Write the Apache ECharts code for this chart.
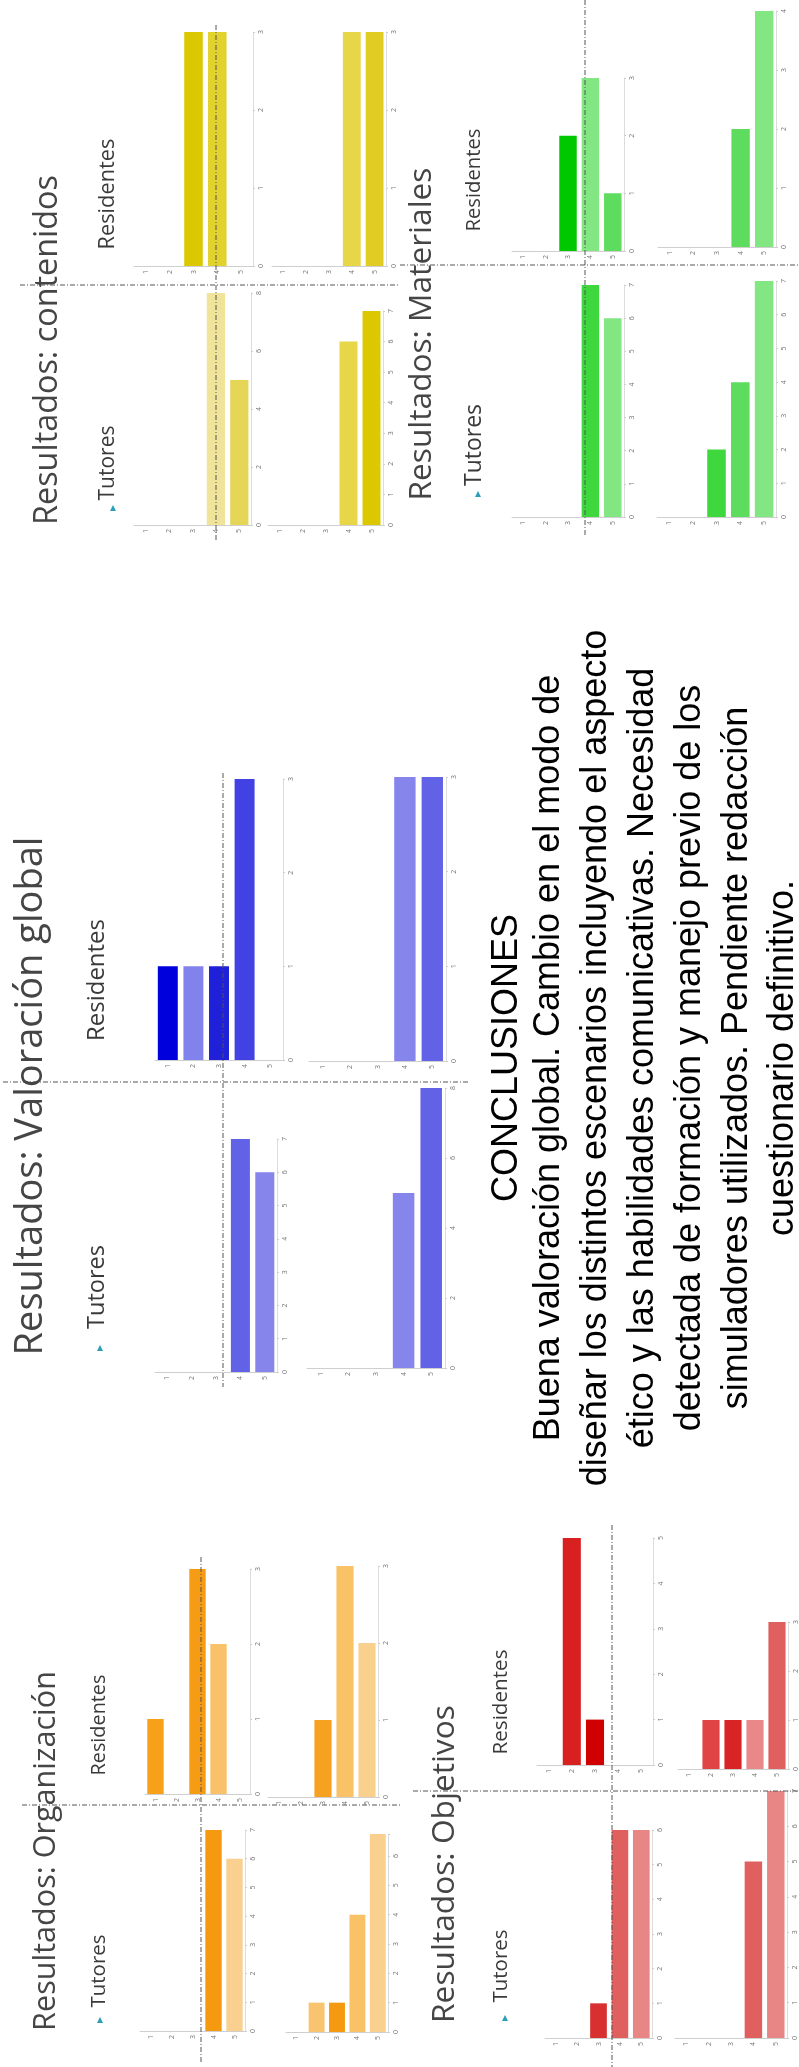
<!DOCTYPE html>
<html>
<head>
<meta charset="utf-8">
<script src="https://cdn.jsdelivr.net/npm/echarts@6/dist/echarts.min.js"></script>
<style>
html,body{margin:0;padding:0;background:#ffffff;}
#chart{width:799px;height:2067px;}
</style>
</head>
<body>
<div id="chart"></div>
<script>
// ---------------- DATA ----------------
const categories = ['1', '2', '3', '4', '5'];

// Resultados: contenidos
const contenidosResidentesA = [0, 0, 3, 3, 0];
const contenidosResidentesB = [0, 0, 0, 3, 3];
const contenidosTutoresA = [0, 0, 0, 8, 5];
const contenidosTutoresB = [0, 0, 0, 6, 7];
// Resultados: Materiales
const materialesResidentesA = [0, 0, 2, 3, 1];
const materialesResidentesB = [0, 0, 0, 2, 4];
const materialesTutoresA = [0, 0, 0, 7, 6];
const materialesTutoresB = [0, 0, 2, 4, 7];
// Resultados: Valoración global
const valoracionResidentesA = [1, 1, 1, 3, 0];
const valoracionResidentesB = [0, 0, 0, 3, 3];
const valoracionTutoresA = [0, 0, 0, 7, 6];
const valoracionTutoresB = [0, 0, 0, 5, 8];
// Resultados: Organización
const organizacionResidentesA = [1, 0, 3, 2, 0];
const organizacionResidentesB = [0, 0, 1, 3, 2];
const organizacionTutoresA = [0, 0, 0, 7, 6];
const organizacionTutoresB = [0, 1, 1, 4, 7];
// Resultados: Objetivos
const objetivosResidentesA = [0, 5, 1, 0, 0];
const objetivosResidentesB = [0, 1, 1, 1, 3];
const objetivosTutoresA = [0, 0, 1, 6, 6];
const objetivosTutoresB = [0, 0, 0, 5, 7];

const sectionTitles = ['Resultados: contenidos', 'Resultados: Materiales', 'Resultados: Valoración global', 'Resultados: Organización', 'Resultados: Objetivos'];
const groupLabels = ['Residentes', 'Tutores'];
const conclusionLines = [
  'CONCLUSIONES',
  'Buena valoración global. Cambio en el modo de',
  'diseñar los distintos escenarios incluyendo el aspecto',
  'ético y las habilidades comunicativas. Necesidad',
  'detectada de formación y manejo previo de los',
  'simuladores utilizados. Pendiente redacción',
  'cuestionario definitivo.'
];

// ---------------- LAYOUT / STYLE ----------------
const Y = ['#DCC800', '#E2D030', '#E6D648', '#EFE49A', '#E6D658'];
const charts = [
  // contenidos
  {data: contenidosResidentesA, colors: ['#DCC800','#DCC800','#DCC800','#E2D22E','#E2D22E'], box: [134, 32, 253, 266], max: 3, interval: 1},
  {data: contenidosResidentesB, colors: ['#E6D648','#E6D648','#E6D648','#E6D648','#E0CC22'], box: [272, 32, 386, 266], max: 3, interval: 1},
  {data: contenidosTutoresA, colors: ['#EFE49A','#EFE49A','#EFE49A','#EFE49A','#E6D658'], box: [134, 293, 251, 525], max: 8, interval: 2},
  {data: contenidosTutoresB, colors: ['#E6D648','#E6D648','#E6D648','#E6D648','#DCC800'], box: [268, 311, 383, 525], max: 7, interval: 1},
  // materiales
  {data: materialesResidentesA, colors: ['#00C800','#00C800','#00C800','#82E682','#5EDC5E'], box: [512, 78, 624, 251], max: 3, interval: 1},
  {data: materialesResidentesB, colors: ['#5EDC5E','#5EDC5E','#5EDC5E','#5EDC5E','#82E682'], box: [658, 11, 776, 247], max: 4, interval: 1},
  {data: materialesTutoresA, colors: ['#3ED83E','#3ED83E','#3ED83E','#3ED83E','#82E682'], box: [512, 285, 624, 517], max: 7, interval: 1},
  {data: materialesTutoresB, colors: ['#3ED83E','#3ED83E','#3ED83E','#5EDC5E','#82E682'], box: [657, 281, 776, 517], max: 7, interval: 1},
  // valoracion
  {data: valoracionResidentesA, colors: ['#0000DC','#8282EC','#2020D8','#4242E4','#4242E4'], box: [155, 779, 283, 1060], max: 3, interval: 1},
  {data: valoracionResidentesB, colors: ['#8585EC','#8585EC','#8585EC','#8585EC','#6262E6'], box: [309, 777, 446, 1061], max: 3, interval: 1},
  {data: valoracionTutoresA, colors: ['#6262E6','#6262E6','#6262E6','#6262E6','#8585EC'], box: [155, 1139, 277, 1372], max: 7, interval: 1},
  {data: valoracionTutoresB, colors: ['#8585EC','#8585EC','#8585EC','#8585EC','#6262E6'], box: [307, 1088, 445, 1368], max: 8, interval: 2},
  // organizacion
  {data: organizacionResidentesA, colors: ['#F7A01A','#F7A01A','#F59B14','#F9C26A','#F9C26A'], box: [145, 1569, 250, 1794], max: 3, interval: 1},
  {data: organizacionResidentesB, colors: ['#F6A220','#F6A220','#F6A220','#F9C266','#FAD08E'], box: [268, 1566, 378, 1797], max: 3, interval: 1},
  {data: organizacionTutoresA, colors: ['#F59A10','#F59A10','#F59A10','#F59A10','#FAD090'], box: [140, 1830, 245, 2031], max: 7, interval: 1},
  {data: organizacionTutoresB, colors: ['#F9C470','#F9C470','#F59A10','#F9C266','#FAD090'], box: [286, 1834, 388, 2032], max: 6.75, interval: 1},
  // objetivos
  {data: objetivosResidentesA, colors: ['#D82020','#D82020','#D00000','#D00000','#D00000'], box: [537, 1538, 653, 1765], max: 5, interval: 1},
  {data: objetivosResidentesB, colors: ['#E04444','#E04444','#D82424','#E88888','#E06060'], box: [678, 1622, 791, 1769], max: 3, interval: 1},
  {data: objetivosTutoresA, colors: ['#D83030','#D83030','#D83030','#E06060','#E88686'], box: [545, 1830, 652, 2038], max: 6, interval: 1},
  {data: objetivosTutoresB, colors: ['#E06060','#E06060','#E06060','#E06060','#E88686'], box: [675, 1791, 787, 2038], max: 7, interval: 1}
];

// title / label placements: [cx, cy, target length]
const titlePos = [[48, 350, 350], [422, 334, 333], [31, 1096, 519], [46, 1851, 360], [445, 1864, 318]];
const residentesPos = [[108, 194, 111], [474, 180, 103], [97, 980, 122], [99, 1725, 101], [501, 1702, 105]];
const tutoresPos = [[108, 463, 75], [474, 445, 82], [97, 1287, 84], [99, 1971, 73], [501, 1966, 73]];
const trianglePos = [[113, 508], [478, 494], [100, 1348], [100, 2020], [505, 2018]];
const hLines = [[20, 285, 400, 285], [400, 265, 799, 265], [3, 1082, 468, 1082], [22, 1805, 400, 1805], [413, 1791, 799, 1791]];
const vLines = [[216, 25, 216, 540], [585, 0, 585, 536], [223, 773, 223, 1387], [201, 1557, 201, 2062], [612, 1525, 612, 2067]];
const conclusionX = [507, 549, 596, 643, 690, 737, 783];
const conclusionY = 1058;

// ---------------- BUILD ----------------
const measureCtx = document.createElement('canvas').getContext('2d');
function fitSize(text, family, target) {
  measureCtx.font = '100px ' + family;
  return 100 * target / measureCtx.measureText(text).width;
}
function vText(text, x, y, size, family, color) {
  return {
    type: 'text', x: x, y: y, rotation: Math.PI / 2, z: 100,
    style: {text: text, fontSize: size, fontFamily: family, fill: color, align: 'center', verticalAlign: 'middle'}
  };
}

const grid = [], xAxis = [], yAxis = [], series = [];
charts.forEach(function (c, i) {
  const [x1, y1, x2, y2] = c.box;
  grid.push({left: x1, top: y1, width: x2 - x1, height: y2 - y1, containLabel: false});
  xAxis.push({
    type: 'category', gridIndex: i, data: categories,
    axisLine: {show: true, lineStyle: {color: '#cfcfcf', width: 1}},
    axisTick: {show: false},
    axisLabel: {rotate: 90, fontSize: 7, color: '#777', margin: 4, fontFamily: 'Open Sans'}
  });
  yAxis.push({
    type: 'value', gridIndex: i, position: 'right', min: 0, max: c.max, interval: c.interval,
    splitLine: {show: false},
    axisLine: {show: true, lineStyle: {color: '#dcdcdc', width: 1}},
    axisTick: {show: true, length: 2, lineStyle: {color: '#cfcfcf'}},
    axisLabel: {rotate: 90, fontSize: 7, color: '#777', margin: 4, fontFamily: 'Open Sans',
      formatter: function (v) { return Number.isInteger(v) ? String(v) : ''; }}
  });
  series.push({
    type: 'bar', xAxisIndex: i, yAxisIndex: i, barCategoryGap: '22%', clip: true, silent: true,
    data: c.data.map(function (v, k) { return {value: v, itemStyle: {color: c.colors[k]}}; })
  });
});

const graphic = [];
const titleFont = 'Open Sans';
sectionTitles.forEach(function (t, i) {
  const p = titlePos[i];
  graphic.push(vText(t, p[0], p[1], fitSize(t, titleFont, p[2]), titleFont, '#454545'));
  const r = residentesPos[i];
  graphic.push(vText(groupLabels[0], r[0], r[1], fitSize(groupLabels[0], titleFont, r[2]), titleFont, '#3a3a3a'));
  const tu = tutoresPos[i];
  graphic.push(vText(groupLabels[1], tu[0], tu[1], fitSize(groupLabels[1], titleFont, tu[2]), titleFont, '#3a3a3a'));
  const tr = trianglePos[i];
  graphic.push({type: 'polygon', z: 100, shape: {points: [[tr[0] - 3, tr[1] + 3], [tr[0] + 3, tr[1] + 3], [tr[0], tr[1] - 3]]}, style: {fill: '#2AA0B8'}});
});
hLines.concat(vLines).forEach(function (l) {
  graphic.push({type: 'line', z: 90, shape: {x1: l[0], y1: l[1], x2: l[2], y2: l[3]},
    style: {stroke: '#555', lineWidth: 1, lineDash: [5, 2, 1, 2]}});
});
conclusionLines.forEach(function (t, i) {
  graphic.push(vText(t, conclusionX[i], conclusionY, 36, '"Liberation Sans", Arial, sans-serif', '#000'));
});

const chart = echarts.init(document.getElementById('chart'), null, {renderer: 'canvas'});
chart.setOption({
  backgroundColor: '#ffffff',
  animation: false,
  grid: grid, xAxis: xAxis, yAxis: yAxis, series: series,
  graphic: graphic
});
</script>
</body>
</html>
